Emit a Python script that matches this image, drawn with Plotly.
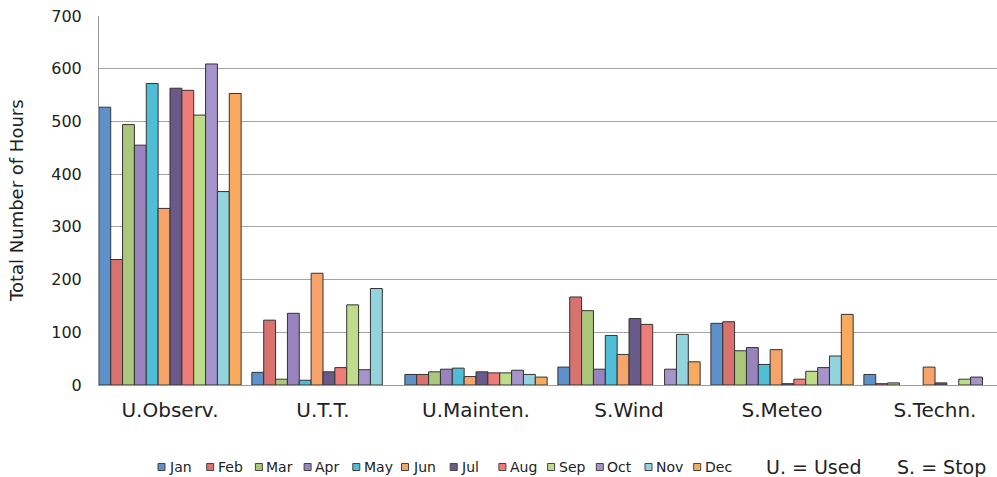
import plotly.graph_objects as go

# Categories on the x axis
categories = ["U.Observ.", "U.T.T.", "U.Mainten.", "S.Wind", "S.Meteo", "S.Techn."]

# Monthly totals (hours) for each category
months = ["Jan", "Feb", "Mar", "Apr", "May", "Jun",
          "Jul", "Aug", "Sep", "Oct", "Nov", "Dec"]
jan = [527, 24, 20, 34, 117, 20]
feb = [238, 123, 20, 167, 120, 2.5]
mar = [494, 11, 25, 141, 65, 4]
apr = [455, 136, 30, 30, 71, 0]
may = [572, 9, 32, 94, 39, 0]
jun = [335, 212, 16, 58, 67, 34]
jul = [563, 25, 25, 126, 2.5, 4]
aug = [559, 33, 23, 115, 11, 0]
sep = [512, 152, 23, 0, 26, 11]
oct_ = [609, 29, 28, 30, 33, 15]
nov = [367, 183, 20, 96, 55, 0]
dec = [553, 0, 15, 44, 134, 0]
series = [jan, feb, mar, apr, may, jun, jul, aug, sep, oct_, nov, dec]

colors = ["#5E91CA", "#D7726F", "#AAC77C", "#9883BE", "#4FBDD6", "#F6A46A",
          "#6A5A8A", "#EE7C78", "#BEDC8A", "#A593CA", "#92D3DE", "#F8AB5E"]

FONT = "DejaVu Sans, Verdana, sans-serif"
W, H = 997, 477
ML, MR, MT, MB = 99, 0, 16, 92
PW = W - ML - MR
PH = H - MT - MB


def px_x(x):
    return (x - ML) / PW


def px_y(y):
    return (H - MB - y) / PH


fig = go.Figure()
for name, vals, col in zip(months, series, colors):
    # empty bars get no outline so nothing is drawn for them
    widths = [1 if v > 0 else 0 for v in vals]
    fig.add_trace(go.Bar(
        x=categories, y=vals, name=name,
        marker=dict(color=col, line=dict(color="#333333", width=widths)),
        showlegend=False,
    ))

shapes = []
annotations = []

# Legend row: coloured squares with month names
leg_y = 467
for i, (name, col) in enumerate(zip(months, colors)):
    x0 = 158 + 48.7 * i
    shapes.append(dict(
        type="rect", xref="paper", yref="paper",
        x0=px_x(x0), x1=px_x(x0 + 7),
        y0=px_y(leg_y + 3.5), y1=px_y(leg_y - 3.5),
        fillcolor=col, line=dict(color="#444444", width=1),
    ))
    annotations.append(dict(
        text=name, xref="paper", yref="paper",
        x=px_x(x0 + 9), y=px_y(leg_y), xanchor="left", yanchor="middle",
        showarrow=False, font=dict(family=FONT, size=14, color="#222222"),
    ))

annotations.append(dict(
    text="U. = Used", xref="paper", yref="paper",
    x=px_x(764), y=px_y(leg_y), xanchor="left", yanchor="middle",
    showarrow=False, font=dict(family=FONT, size=19, color="#222222"),
))
annotations.append(dict(
    text="S. = Stop", xref="paper", yref="paper",
    x=px_x(895), y=px_y(leg_y), xanchor="left", yanchor="middle",
    showarrow=False, font=dict(family=FONT, size=19, color="#222222"),
))

# Y axis title
annotations.append(dict(
    text="Total Number of Hours", xref="paper", yref="paper",
    x=px_x(17), y=px_y(201), xanchor="center", yanchor="middle",
    textangle=-90, showarrow=False,
    font=dict(family=FONT, size=18, color="#222222"),
))

fig.update_layout(
    width=W, height=H,
    margin=dict(l=ML, r=MR, t=MT, b=MB),
    paper_bgcolor="white", plot_bgcolor="white",
    barmode="group", bargap=0.07, bargroupgap=0,
    font=dict(family=FONT, color="#222222"),
    shapes=shapes, annotations=annotations,
    showlegend=False,
)
fig.update_xaxes(
    type="category", range=[-0.464, 5.405],
    showline=True, linecolor="#999999", linewidth=1,
    showgrid=False, ticks="", ticklabelstandoff=7,
    tickfont=dict(family=FONT, size=20, color="#222222"),
)
fig.update_yaxes(
    range=[0, 700], dtick=100,
    showline=True, linecolor="#999999", linewidth=1,
    showgrid=True, gridcolor="#A6A6A6", gridwidth=1,
    zeroline=False, ticks="", ticklabelstandoff=13,
    tickfont=dict(family=FONT, size=16, color="#222222"),
)

fig.write_html("out.html")
